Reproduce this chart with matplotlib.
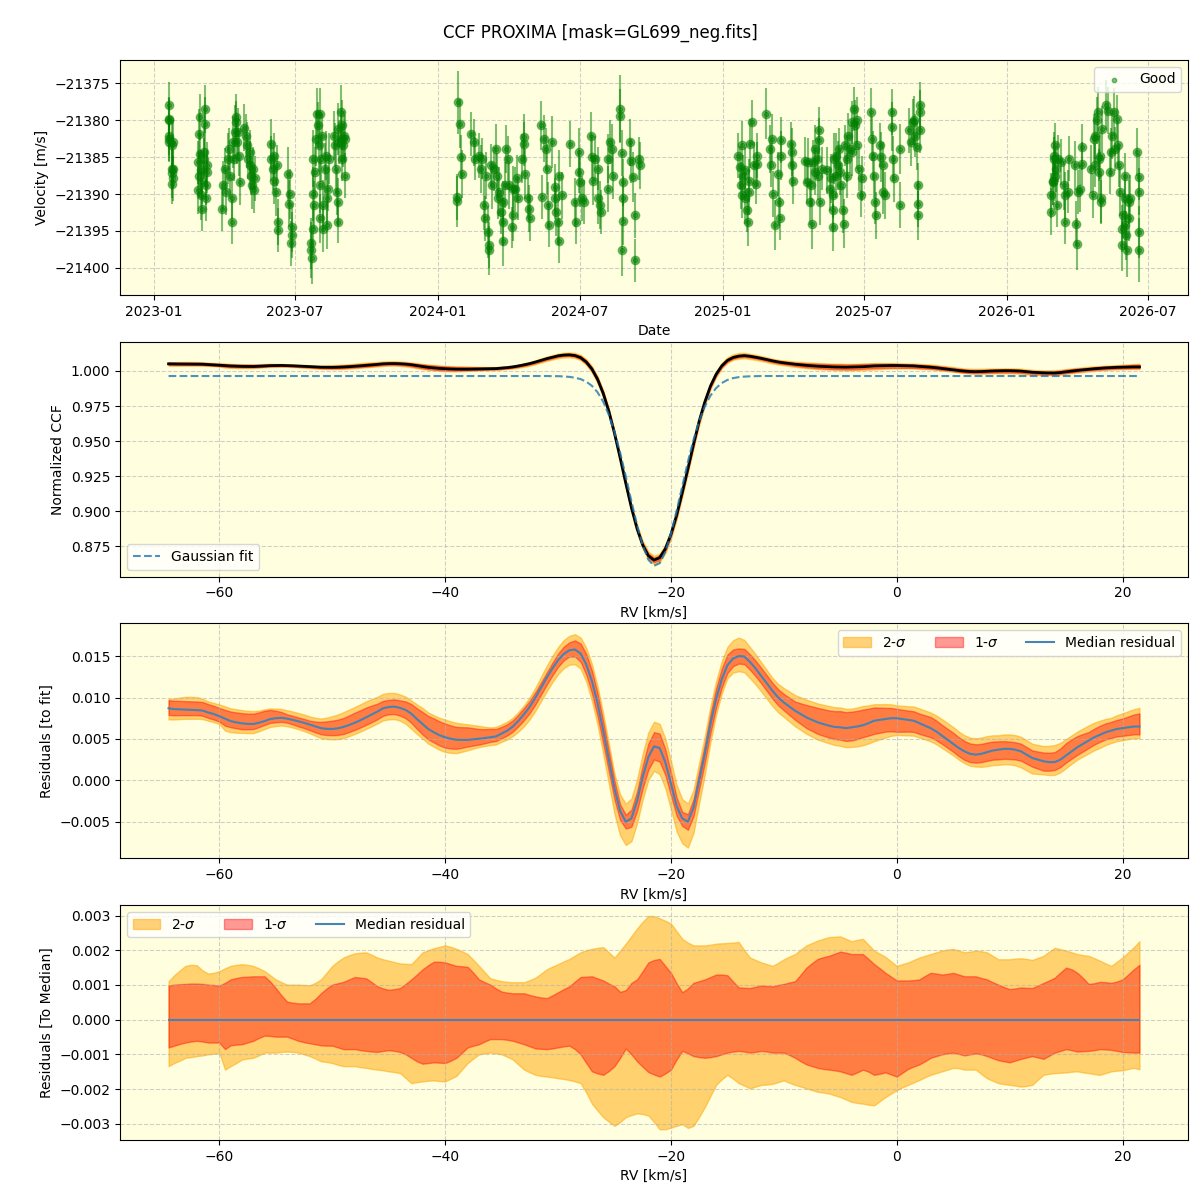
import numpy as np
import pandas as pd
import matplotlib
matplotlib.use("Agg")
import matplotlib.pyplot as plt

# ---------------- RV time series (days since 2023-01-01, m/s) ----------------
days_2023 = [
    19, 19, 19, 20, 20, 20, 23, 23, 23, 23, 25, 25, 25,
    57, 57, 58, 58, 60, 60, 61, 61, 62, 62, 64, 64, 66, 66, 67, 67, 69, 69,
    88, 89, 91, 93, 95, 97, 98, 100, 100, 102, 103, 104, 105, 106, 107, 108, 109, 111,
    116, 118, 120, 121, 123, 124, 125, 126, 127, 129, 130,
    150, 151, 153, 154, 155, 157, 158, 159, 160,
    173, 174, 175, 176, 177, 178,
    202, 202, 203, 204, 204, 205, 206, 207, 209, 210, 211, 212, 213, 213, 214, 215,
    216, 217, 218, 220, 221, 222, 222, 224, 225,
    232, 233, 234, 235, 236, 236, 237, 238, 240, 241, 242, 242, 243, 244, 245, 246,
]
rv_2023 = [
    -21377.9, -21379.8, -21380.0, -21382.1, -21382.5, -21383.0, -21383.4, -21386.6, -21387.2, -21388.6,
    -21383.0, -21386.6, -21387.9,
    -21389.5, -21385.7, -21387.5, -21381.9, -21384.6, -21379.6, -21386.8, -21390.2, -21392.0, -21388.4,
    -21384.3, -21385.2, -21378.5, -21380.5, -21390.6, -21388.8, -21386.1, -21387.0,
    -21392.0, -21388.8, -21386.6, -21389.7, -21385.2, -21383.9, -21387.5, -21393.8, -21390.6, -21383.0,
    -21385.2, -21381.6, -21379.6, -21380.3, -21383.0, -21381.6, -21384.8, -21388.4,
    -21381.0, -21382.1, -21383.4, -21385.2, -21386.1, -21384.3, -21387.5, -21388.8, -21386.6, -21389.5,
    -21387.9,
    -21383.2, -21385.2, -21386.6, -21388.2, -21384.8, -21389.7, -21386.1, -21393.8, -21394.9,
    -21387.3, -21391.3, -21390.0, -21396.7, -21394.5, -21395.6,
    -21396.7, -21397.6, -21398.7, -21394.7, -21390.0, -21385.2, -21391.5, -21387.0, -21382.5, -21379.1,
    -21380.7, -21383.4, -21379.1, -21393.3, -21388.8, -21385.2, -21382.1, -21391.5, -21394.7, -21386.6,
    -21384.8, -21390.6, -21394.2, -21389.3, -21385.2,
    -21382.1, -21383.4, -21386.6, -21389.7, -21391.1, -21393.8, -21381.2, -21383.0, -21378.9, -21382.5,
    -21380.7, -21385.2, -21383.4, -21382.1, -21387.5, -21382.5,
]
err_2023 = [
    3.0, 2.8, 3.2, 2.6, 3.0, 2.7, 3.1, 2.9, 3.3, 2.8, 3.0, 2.6, 3.1,
    3.2, 2.9, 3.0, 3.4, 2.7, 3.1, 2.8, 3.3, 3.0, 2.9, 3.5, 2.8, 3.2, 3.6, 3.0, 2.7, 3.1, 2.9,
    3.0, 3.3, 2.8, 3.1, 3.4, 2.9, 3.2, 3.0, 2.8, 3.5, 3.1, 3.6, 3.2, 2.9, 3.0, 3.3, 2.8, 3.1,
    3.2, 2.9, 3.1, 2.8, 3.3, 3.0, 2.7, 3.2, 2.9, 3.1, 3.0,
    3.4, 3.1, 2.9, 3.2, 3.0, 3.3, 2.8, 3.1, 3.0,
    3.6, 3.2, 3.4, 3.0, 3.3, 3.1,
    3.5, 3.8, 3.5, 3.3, 3.6, 3.9, 3.2, 3.4, 3.7, 3.4, 3.1, 3.6, 3.5, 3.3, 3.8, 3.2,
    3.0, 3.4, 3.1, 3.5, 3.3, 3.6, 3.2, 3.0, 3.4,
    3.3, 3.0, 3.4, 3.1, 3.2, 2.9, 3.5, 3.0, 3.6, 3.2, 3.4, 3.1, 2.9, 3.3, 3.0, 3.2,
]

days_2024 = [
    389, 390, 391, 393, 395, 396,
    407, 411, 413, 418, 420, 422, 424, 426, 427, 429, 430, 430, 433, 435, 437, 439, 441, 442,
    443, 446, 448, 448, 449, 451, 453, 455, 456, 460, 462, 462, 464, 466, 468, 473, 475, 476,
    477, 481, 482, 483,
    497, 499, 501, 504, 505, 506, 507, 512, 515, 515, 517, 519, 520, 521, 524,
    534, 541, 542, 546, 546, 548, 550, 552,
    562, 563, 564, 567, 570, 571, 573, 574,
    583, 584, 586, 588, 590, 599, 599, 601, 602, 603, 603, 603,
    612, 613, 615, 618, 618, 623, 625,
]
rv_2024 = [
    -21391.0, -21390.4, -21377.6, -21380.5, -21385.0, -21387.3,
    -21381.9, -21383.0, -21385.2, -21384.8, -21386.6, -21385.2, -21391.5, -21393.3, -21387.5, -21395.1,
    -21396.9, -21397.6, -21386.1, -21388.8, -21386.6, -21383.9, -21387.5, -21390.6, -21389.7, -21392.4,
    -21393.8, -21396.3, -21391.1, -21388.8, -21383.9, -21385.2, -21388.8, -21394.5, -21392.9, -21389.3,
    -21389.3, -21387.9, -21390.6, -21385.2, -21382.3, -21383.2, -21387.3, -21390.6, -21392.0, -21393.3,
    -21380.7, -21390.4, -21382.5, -21383.9, -21386.6, -21391.5, -21394.2, -21383.0, -21389.1, -21390.6,
    -21392.4, -21393.8, -21396.3, -21387.5, -21390.2,
    -21383.2, -21391.1, -21393.8, -21384.3, -21387.0, -21388.4, -21390.6, -21391.1,
    -21382.1, -21385.0, -21388.2, -21385.2, -21386.6, -21390.6, -21391.5, -21392.4,
    -21385.2, -21389.3, -21383.0, -21383.9, -21387.5, -21378.5, -21379.4, -21384.5, -21397.6, -21388.4,
    -21390.6, -21393.6,
    -21383.0, -21385.5, -21387.7, -21392.9, -21399.0, -21385.2, -21386.1,
]
err_2024 = [
    3.4, 3.1, 4.3, 3.3, 3.0, 3.2,
    3.0, 3.2, 2.9, 3.1, 3.3, 2.8, 3.4, 3.0, 3.2, 3.5, 3.1, 3.3, 2.9, 3.2, 3.0, 3.4, 3.1, 2.8,
    3.3, 3.0, 3.2, 3.5, 2.9, 3.1, 3.3, 3.0, 3.2, 2.8, 3.4, 3.1, 3.0, 3.2, 2.9, 3.3, 3.1, 3.0,
    3.4, 2.8, 3.2, 3.1,
    3.3, 3.0, 3.2, 2.9, 3.4, 3.1, 3.0, 3.5, 3.2, 2.8, 3.3, 3.1, 3.0, 3.4, 3.2,
    3.1, 3.3, 3.0, 3.2, 2.9, 3.4, 3.1, 3.0,
    3.2, 3.0, 3.3, 3.1, 2.9, 3.4, 3.2, 3.0,
    3.3, 3.1, 3.0, 3.4, 3.2, 4.6, 3.6, 3.1, 3.5, 3.2, 3.0, 3.3,
    3.2, 3.0, 3.4, 3.1, 2.9, 2.9, 3.2,
]

days_2025 = [
    751, 753, 754, 755, 756, 757, 759, 759, 762, 763, 764, 764, 766, 769, 771, 773, 775, 775,
    786,
    792, 793, 794, 795, 798, 802, 803, 804, 806, 806,
    819, 820, 820, 821,
    837, 839, 840, 843, 844, 845, 847, 849, 849, 852, 853, 854, 855, 856, 858,
    865, 868, 870, 872, 872, 872, 874, 876, 876, 879, 880, 881, 883, 885, 886, 888, 890, 890,
    892, 894, 897, 897, 900, 901, 903, 903, 906, 908, 910,
    921, 922, 924, 925, 926, 928, 933, 934, 936, 937, 939,
    948, 948, 949, 951, 958, 958,
    970, 972, 975, 976, 978, 980, 982, 982, 982, 984, 984, 984,
]
rv_2025 = [
    -21384.8, -21386.4, -21388.8, -21390.2, -21383.4, -21387.5, -21386.8, -21390.6, -21392.2, -21393.8,
    -21388.2, -21389.7, -21383.2, -21380.3, -21386.1, -21388.6, -21384.8, -21385.9,
    -21379.1,
    -21383.9, -21386.1, -21382.5, -21390.0, -21394.2, -21387.3, -21391.1, -21393.3, -21382.7, -21384.8,
    -21383.2, -21384.3, -21386.1, -21388.2,
    -21385.5, -21388.4, -21385.7, -21391.1, -21388.8, -21394.0, -21385.7, -21383.9, -21387.0, -21385.2,
    -21387.5, -21382.7, -21381.4, -21391.1, -21386.6,
    -21386.8, -21389.3, -21387.9, -21390.2, -21392.2, -21394.5, -21385.2, -21384.8, -21387.5, -21386.1,
    -21383.9, -21387.0, -21388.8, -21392.2, -21394.0, -21383.4, -21385.2, -21387.5, -21382.1, -21383.9,
    -21380.3, -21384.3, -21378.5, -21380.7, -21380.0, -21383.4, -21386.6, -21390.2, -21387.9,
    -21378.9, -21382.5, -21384.8, -21387.5, -21391.1, -21392.9, -21383.4, -21385.0, -21386.1, -21389.7,
    -21390.2,
    -21378.9, -21380.9, -21385.2, -21387.9, -21383.9, -21391.5,
    -21381.4, -21383.0, -21380.3, -21380.0, -21382.1, -21383.6, -21388.8, -21391.3, -21392.9, -21378.0,
    -21378.9, -21381.4,
]
err_2025 = [
    3.1, 2.9, 3.2, 3.0, 3.3, 2.8, 3.1, 3.4, 3.0, 3.2, 2.9, 3.1, 3.3, 3.0, 3.2, 2.8, 3.1, 3.0,
    3.4,
    3.2, 3.0, 3.3, 3.1, 3.4, 3.0, 3.2, 2.9, 3.1, 3.3,
    3.0, 3.2, 2.9, 3.1,
    3.2, 3.0, 3.3, 3.1, 2.9, 3.4, 3.0, 3.2, 3.1, 2.8, 3.3, 3.0, 3.2, 3.1, 2.9,
    3.2, 3.0, 3.3, 3.1, 2.9, 3.2, 3.4, 3.0, 3.1, 3.3, 2.9, 3.2, 3.0, 3.1, 3.3, 2.8, 3.2, 3.0,
    3.1, 3.3, 2.9, 3.2, 3.0, 3.4, 3.1, 3.2, 3.0, 2.9, 3.1,
    3.2, 3.0, 3.3, 3.1, 2.9, 3.2, 3.0, 3.4, 3.1, 3.0, 3.2,
    3.1, 3.3, 3.0, 3.2, 3.4, 3.1,
    3.0, 3.2, 3.1, 3.3, 2.9, 3.2, 3.0, 3.1, 3.3, 3.2, 3.0, 3.1,
]

days_2026 = [
    1152, 1153, 1155, 1155, 1156, 1156, 1158, 1158, 1159, 1160, 1162, 1165, 1169, 1170, 1171, 1174, 1176,
    1183, 1185, 1186, 1187, 1189, 1192, 1192,
    1204, 1206, 1207, 1209, 1209, 1211, 1213, 1214, 1214, 1215, 1216, 1217, 1218, 1223, 1225,
    1228, 1229, 1231, 1233, 1235, 1237, 1239, 1240, 1241, 1243, 1244, 1245, 1247, 1247, 1248, 1249,
    1250, 1252, 1252, 1254,
    1263, 1266, 1266, 1266, 1266,
]
rv_2026 = [
    -21392.4, -21390.2, -21388.2, -21388.4, -21385.2, -21384.8, -21383.4, -21387.5, -21386.6, -21391.5,
    -21385.2, -21385.7, -21388.8, -21393.8, -21390.2, -21389.7, -21385.2,
    -21386.1, -21394.0, -21396.8, -21389.7, -21389.3, -21383.6, -21385.9,
    -21386.6, -21390.2, -21382.5, -21382.1, -21386.1, -21380.0, -21378.9, -21385.2, -21387.0, -21384.8,
    -21391.1, -21390.6, -21381.2, -21378.0, -21378.7,
    -21387.0, -21384.3, -21382.1, -21378.9, -21383.9, -21379.8, -21383.4, -21386.1, -21389.7, -21394.7,
    -21396.9, -21392.9, -21387.5, -21390.6, -21394.2, -21395.6, -21397.6, -21393.3, -21391.1, -21390.6,
    -21384.3, -21387.7, -21389.7, -21395.1, -21397.6,
]
err_2026 = [
    3.2, 3.0, 3.3, 3.1, 2.9, 3.2, 3.0, 3.4, 3.1, 3.0, 3.2, 3.1, 3.3, 3.0, 3.2, 2.9, 3.1,
    3.3, 3.1, 3.5, 3.0, 3.2, 3.1, 2.9,
    3.2, 3.0, 3.3, 3.1, 2.9, 3.2, 3.4, 3.0, 3.1, 3.2, 3.0, 3.3, 3.1, 3.4, 3.2,
    3.0, 3.2, 3.1, 3.3, 3.0, 3.2, 3.1, 2.9, 3.3, 3.2, 3.5, 3.1, 3.0, 3.2, 3.4, 3.3,
    3.6, 3.1, 3.0, 3.2,
    3.3, 3.1, 3.2, 3.5, 4.3,
]

# ---------------- CCF profiles (RV grid -64.5 .. 21.5 km/s, step 0.5) ----------------
rv_grid = np.arange(-64.5, 21.51, 0.5)

gauss_fit = [
    0.9964, 0.9964, 0.9964, 0.9964, 0.9964, 0.9964, 0.9964, 0.9964, 0.9964, 0.9964,
    0.9964, 0.9964, 0.9964, 0.9964, 0.9964, 0.9964, 0.9964, 0.9964, 0.9964, 0.9964,
    0.9964, 0.9964, 0.9964, 0.9964, 0.9964, 0.9964, 0.9964, 0.9964, 0.9964, 0.9964,
    0.9964, 0.9964, 0.9964, 0.9964, 0.9964, 0.9964, 0.9964, 0.9964, 0.9964, 0.9964,
    0.9964, 0.9964, 0.9964, 0.9964, 0.9964, 0.9964, 0.9964, 0.9964, 0.9964, 0.9964,
    0.9964, 0.9964, 0.9964, 0.9964, 0.9964, 0.9964, 0.9964, 0.9964, 0.9964, 0.9964,
    0.9964, 0.9964, 0.9964, 0.9964, 0.9964, 0.9964, 0.9964, 0.9964, 0.9963, 0.9963,
    0.9961, 0.9958, 0.9952, 0.9942, 0.9924, 0.9894, 0.9848, 0.9781, 0.9687, 0.9566,
    0.9418, 0.9249, 0.9071, 0.8900, 0.8755, 0.8654, 0.8610, 0.8629, 0.8709, 0.8838,
    0.9001, 0.9178, 0.9352, 0.9510, 0.9642, 0.9747, 0.9824, 0.9878, 0.9914, 0.9936,
    0.9949, 0.9956, 0.9960, 0.9962, 0.9963, 0.9964, 0.9964, 0.9964, 0.9964, 0.9964,
    0.9964, 0.9964, 0.9964, 0.9964, 0.9964, 0.9964, 0.9964, 0.9964, 0.9964, 0.9964,
    0.9964, 0.9964, 0.9964, 0.9964, 0.9964, 0.9964, 0.9964, 0.9964, 0.9964, 0.9964,
    0.9964, 0.9964, 0.9964, 0.9964, 0.9964, 0.9964, 0.9964, 0.9964, 0.9964, 0.9964,
    0.9964, 0.9964, 0.9964, 0.9964, 0.9964, 0.9964, 0.9964, 0.9964, 0.9964, 0.9964,
    0.9964, 0.9964, 0.9964, 0.9964, 0.9964, 0.9964, 0.9964, 0.9964, 0.9964, 0.9964,
    0.9964, 0.9964, 0.9964, 0.9964, 0.9964, 0.9964, 0.9964, 0.9964, 0.9964, 0.9964,
    0.9964, 0.9964, 0.9964,
]

median_residual = [
    0.0087, 0.0086, 0.00857, 0.00853, 0.0085, 0.00848, 0.00843, 0.0082, 0.0080, 0.00775,
    0.00745, 0.00715, 0.0070, 0.00688, 0.00682, 0.0068, 0.00695, 0.00715, 0.0074, 0.0075,
    0.00755, 0.00745, 0.0073, 0.00712, 0.00695, 0.00673, 0.0065, 0.0063, 0.00622, 0.0062,
    0.00628, 0.00645, 0.00668, 0.00695, 0.00726, 0.0076, 0.00795, 0.0083, 0.0087, 0.00885,
    0.0089, 0.00875, 0.0085, 0.00805, 0.0074, 0.0068, 0.0062, 0.0058, 0.00545, 0.0052,
    0.00502, 0.0049, 0.00488, 0.00488, 0.00495, 0.00503, 0.0051, 0.0052, 0.0053, 0.00565,
    0.0060, 0.0065, 0.0072, 0.0080, 0.0089, 0.0100, 0.0112, 0.0124, 0.0135, 0.0145,
    0.01525, 0.0157, 0.0158, 0.0153, 0.0140, 0.0120, 0.0093, 0.0060, 0.0025, -0.0010,
    -0.0037, -0.0050, -0.0046, -0.0025, 0.0004, 0.0028, 0.0041, 0.0039, 0.0022, -0.0004,
    -0.0031, -0.0046, -0.0050, -0.0033, 0.0000, 0.0032, 0.0068, 0.0098, 0.0122, 0.0139,
    0.0147, 0.0150, 0.01495, 0.0143, 0.0135, 0.0126, 0.0117, 0.0108, 0.0100, 0.0094,
    0.0089, 0.0084, 0.0080, 0.0076, 0.0073, 0.0070, 0.0068, 0.0066, 0.00645, 0.0064,
    0.0063, 0.0064, 0.0065, 0.00665, 0.0069, 0.0072, 0.0073, 0.0074, 0.0075, 0.0075,
    0.0074, 0.0073, 0.0072, 0.0069, 0.0066, 0.0063, 0.0059, 0.0054, 0.0049, 0.0044,
    0.0039, 0.0035, 0.0032, 0.0031, 0.0032, 0.0034, 0.0036, 0.0037, 0.0038, 0.0038,
    0.0037, 0.0035, 0.0031, 0.0027, 0.0025, 0.0023, 0.0022, 0.0022, 0.0025, 0.0030,
    0.0035, 0.0040, 0.0044, 0.0048, 0.0052, 0.0055, 0.0058, 0.0060, 0.0062, 0.0063,
    0.0064, 0.0065, 0.0065,
]

# percentile offsets around the median, read at half-integer RVs (-64.5 .. 21.5)
upper_2sig_half = [
    0.00111, 0.00142, 0.00158, 0.00142, 0.00135, 0.00148, 0.00158, 0.00158, 0.00148, 0.00128,
    0.00108, 0.00101, 0.00100, 0.00106, 0.00135, 0.00168, 0.00186, 0.00193, 0.00187, 0.00174,
    0.00166, 0.00161, 0.00177, 0.00200, 0.00210, 0.00210, 0.00197, 0.00172, 0.00137, 0.00115,
    0.00109, 0.00108, 0.00114, 0.00133, 0.00153, 0.00168, 0.00185, 0.00200, 0.00207, 0.00194,
    0.00199, 0.00241, 0.00282, 0.00298, 0.00285, 0.00255, 0.00222, 0.00214, 0.00216, 0.00220,
    0.00222, 0.00200, 0.00172, 0.00160, 0.00164, 0.00182, 0.00202, 0.00221, 0.00233, 0.00239,
    0.00233, 0.00230, 0.00216, 0.00190, 0.00168, 0.00160, 0.00172, 0.00184, 0.00194, 0.00202,
    0.00199, 0.00196, 0.00197, 0.00184, 0.00174, 0.00176, 0.00175, 0.00178, 0.00196, 0.00203,
    0.00194, 0.00186, 0.00177, 0.00162, 0.00167, 0.00194, 0.00226,
]
upper_1sig_half = [
    0.00098, 0.00102, 0.00104, 0.00103, 0.00100, 0.00106, 0.00120, 0.00124, 0.00125, 0.00110,
    0.00070, 0.00049, 0.00047, 0.00060, 0.00090, 0.00105, 0.00116, 0.00121, 0.00108, 0.00090,
    0.00088, 0.00103, 0.00130, 0.00157, 0.00167, 0.00160, 0.00154, 0.00135, 0.00108, 0.00090,
    0.00078, 0.00076, 0.00071, 0.00064, 0.00070, 0.00088, 0.00110, 0.00124, 0.00119, 0.00104,
    0.00080, 0.00106, 0.00140, 0.00172, 0.00155, 0.00105, 0.00090, 0.00111, 0.00123, 0.00130,
    0.00110, 0.00092, 0.00095, 0.00097, 0.00100, 0.00107, 0.00130, 0.00163, 0.00180, 0.00190,
    0.00193, 0.00189, 0.00175, 0.00148, 0.00124, 0.00113, 0.00114, 0.00126, 0.00133, 0.00132,
    0.00130, 0.00125, 0.00120, 0.00108, 0.00094, 0.00090, 0.00092, 0.00098, 0.00113, 0.00136,
    0.00145, 0.00120, 0.00105, 0.00108, 0.00110, 0.00130, 0.00158,
]
lower_1sig_half = [
    -0.00080, -0.00070, -0.00063, -0.00063, -0.00066, -0.00085, -0.00072, -0.00066, -0.00053, -0.00047,
    -0.00049, -0.00055, -0.00065, -0.00071, -0.00075, -0.00080, -0.00085, -0.00088, -0.00092, -0.00090,
    -0.00090, -0.00100, -0.00120, -0.00125, -0.00124, -0.00118, -0.00095, -0.00075, -0.00063, -0.00056,
    -0.00058, -0.00066, -0.00077, -0.00084, -0.00083, -0.00077, -0.00085, -0.00125, -0.00155, -0.00148,
    -0.00110, -0.00100, -0.00136, -0.00158, -0.00155, -0.00115, -0.00097, -0.00108, -0.00108, -0.00100,
    -0.00092, -0.00092, -0.00093, -0.00092, -0.00095, -0.00102, -0.00120, -0.00134, -0.00142, -0.00146,
    -0.00154, -0.00152, -0.00150, -0.00156, -0.00158, -0.00153, -0.00135, -0.00120, -0.00105, -0.00097,
    -0.00099, -0.00100, -0.00100, -0.00111, -0.00120, -0.00118, -0.00109, -0.00109, -0.00104, -0.00090,
    -0.00088, -0.00091, -0.00088, -0.00086, -0.00090, -0.00094, -0.00095,
]
lower_2sig_half = [
    -0.00134, -0.00118, -0.00108, -0.00103, -0.00098, -0.00144, -0.00125, -0.00112, -0.00103, -0.00095,
    -0.00093, -0.00093, -0.00100, -0.00112, -0.00122, -0.00130, -0.00134, -0.00137, -0.00142, -0.00146,
    -0.00151, -0.00168, -0.00180, -0.00176, -0.00177, -0.00170, -0.00143, -0.00112, -0.00097, -0.00097,
    -0.00107, -0.00130, -0.00152, -0.00162, -0.00166, -0.00171, -0.00178, -0.00210, -0.00262, -0.00294,
    -0.00295, -0.00275, -0.00272, -0.00295, -0.00316, -0.00306, -0.00312, -0.00280, -0.00220, -0.00172,
    -0.00170, -0.00190, -0.00193, -0.00187, -0.00180, -0.00182, -0.00193, -0.00203, -0.00210, -0.00218,
    -0.00230, -0.00240, -0.00245, -0.00235, -0.00213, -0.00195, -0.00181, -0.00166, -0.00154, -0.00144,
    -0.00140, -0.00144, -0.00157, -0.00176, -0.00186, -0.00190, -0.00191, -0.00173, -0.00156, -0.00153,
    -0.00150, -0.00152, -0.00157, -0.00154, -0.00147, -0.00142, -0.00143,
]

# same offsets read at integer RVs (-64 .. 21)
upper_2sig_int = [
    0.00128, 0.00155, 0.00157, 0.00133, 0.00140, 0.00155, 0.00160, 0.00155, 0.00140, 0.00116,
    0.00101, 0.00101, 0.00099, 0.00116, 0.00155, 0.00179, 0.00191, 0.00194, 0.00179, 0.00170,
    0.00162, 0.00160, 0.00194, 0.00206, 0.00214, 0.00204, 0.00189, 0.00155, 0.00119, 0.00111,
    0.00108, 0.00108, 0.00121, 0.00145, 0.00160, 0.00175, 0.00194, 0.00204, 0.00209, 0.00179,
    0.00219, 0.00263, 0.00299, 0.00292, 0.00277, 0.00233, 0.00214, 0.00214, 0.00219, 0.00221,
    0.00224, 0.00179, 0.00165, 0.00155, 0.00174, 0.00189, 0.00214, 0.00228, 0.00238, 0.00240,
    0.00226, 0.00233, 0.00199, 0.00181, 0.00155, 0.00165, 0.00179, 0.00189, 0.00199, 0.00204,
    0.00194, 0.00199, 0.00194, 0.00174, 0.00174, 0.00177, 0.00172, 0.00184, 0.00207, 0.00199,
    0.00189, 0.00184, 0.00170, 0.00155, 0.00179, 0.00209,
]
upper_1sig_int = [
    0.00101, 0.00103, 0.00104, 0.00101, 0.00098, 0.00116, 0.00123, 0.00125, 0.00125, 0.00091,
    0.00052, 0.00047, 0.00047, 0.00076, 0.00101, 0.00109, 0.00123, 0.00119, 0.00096, 0.00086,
    0.00091, 0.00116, 0.00145, 0.00167, 0.00165, 0.00155, 0.00152, 0.00116, 0.00101, 0.00081,
    0.00076, 0.00076, 0.00067, 0.00062, 0.00079, 0.00096, 0.00123, 0.00125, 0.00113, 0.00096,
    0.00085, 0.00116, 0.00165, 0.00175, 0.00135, 0.00079, 0.00106, 0.00116, 0.00130, 0.00128,
    0.00093, 0.00091, 0.00098, 0.00096, 0.00103, 0.00111, 0.00150, 0.00175, 0.00184, 0.00196,
    0.00189, 0.00189, 0.00160, 0.00135, 0.00113, 0.00113, 0.00116, 0.00135, 0.00130, 0.00135,
    0.00125, 0.00125, 0.00116, 0.00101, 0.00088, 0.00093, 0.00091, 0.00106, 0.00121, 0.00150,
    0.00135, 0.00103, 0.00109, 0.00106, 0.00116, 0.00145,
]
lower_1sig_int = [
    -0.00075, -0.00066, -0.00061, -0.00066, -0.00066, -0.00074, -0.00071, -0.00061, -0.00046, -0.00049,
    -0.00049, -0.00061, -0.00068, -0.00074, -0.00075, -0.00085, -0.00085, -0.00090, -0.00093, -0.00088,
    -0.00093, -0.00110, -0.00127, -0.00123, -0.00125, -0.00110, -0.00080, -0.00071, -0.00056, -0.00056,
    -0.00061, -0.00071, -0.00083, -0.00085, -0.00080, -0.00075, -0.00100, -0.00149, -0.00159, -0.00134,
    -0.00083, -0.00120, -0.00151, -0.00164, -0.00144, -0.00090, -0.00105, -0.00110, -0.00105, -0.00095,
    -0.00090, -0.00095, -0.00090, -0.00095, -0.00095, -0.00110, -0.00129, -0.00139, -0.00144, -0.00149,
    -0.00159, -0.00144, -0.00159, -0.00152, -0.00164, -0.00142, -0.00129, -0.00110, -0.00100, -0.00095,
    -0.00103, -0.00097, -0.00105, -0.00117, -0.00123, -0.00113, -0.00105, -0.00113, -0.00095, -0.00085,
    -0.00092, -0.00090, -0.00085, -0.00087, -0.00093, -0.00095,
]
lower_2sig_int = [
    -0.00125, -0.00110, -0.00105, -0.00100, -0.00095, -0.00134, -0.00115, -0.00110, -0.00095, -0.00095,
    -0.00092, -0.00095, -0.00105, -0.00120, -0.00125, -0.00134, -0.00134, -0.00139, -0.00144, -0.00149,
    -0.00154, -0.00183, -0.00178, -0.00175, -0.00178, -0.00162, -0.00125, -0.00100, -0.00095, -0.00100,
    -0.00115, -0.00144, -0.00159, -0.00164, -0.00169, -0.00174, -0.00183, -0.00242, -0.00281, -0.00306,
    -0.00281, -0.00270, -0.00276, -0.00316, -0.00311, -0.00301, -0.00306, -0.00252, -0.00188, -0.00159,
    -0.00183, -0.00198, -0.00188, -0.00185, -0.00175, -0.00188, -0.00198, -0.00208, -0.00213, -0.00223,
    -0.00237, -0.00242, -0.00247, -0.00223, -0.00203, -0.00188, -0.00174, -0.00159, -0.00149, -0.00139,
    -0.00144, -0.00144, -0.00169, -0.00183, -0.00188, -0.00193, -0.00188, -0.00159, -0.00154, -0.00152,
    -0.00149, -0.00154, -0.00159, -0.00149, -0.00146, -0.00139,
]

# ---------------- derived arrays ----------------
days = np.array(days_2023 + days_2024 + days_2025 + days_2026, dtype=float)
rv_obs = np.array(rv_2023 + rv_2024 + rv_2025 + rv_2026)
rv_err = np.array(err_2023 + err_2024 + err_2025 + err_2026)
dates = pd.Timestamp("2023-01-01") + pd.to_timedelta(days, unit="D")

gauss = np.array(gauss_fit)
resid = np.array(median_residual)
ccf = gauss + resid


def merge(half, whole):
    out = np.empty(len(half) + len(whole))
    out[::2] = half
    out[1::2] = whole
    return out


u2 = merge(upper_2sig_half, upper_2sig_int)
u1 = merge(upper_1sig_half, upper_1sig_int)
l1 = merge(lower_1sig_half, lower_1sig_int)
l2 = merge(lower_2sig_half, lower_2sig_int)

bg = "lightyellow"
c2 = dict(color="orange", alpha=0.5)
c1 = dict(color="red", alpha=0.4)

fig, axes = plt.subplots(4, 1, figsize=(12, 12), dpi=100)
fig.suptitle("CCF PROXIMA [mask=GL699_neg.fits]", fontsize=12)

# panel 1: velocities
ax = axes[0]
ax.set_facecolor(bg)
ax.errorbar(dates, rv_obs, yerr=rv_err, fmt="o", color="green", alpha=0.5)
ax.scatter(dates, rv_obs, s=10, color="green", alpha=0.5, label="Good", zorder=3)
ax.set_xlabel("Date")
ax.set_ylabel("Velocity [m/s]")
ax.grid(True, linestyle="--", alpha=0.6)
ax.legend(loc="upper right")

# panel 2: CCF and gaussian fit
ax = axes[1]
ax.set_facecolor(bg)
ax.fill_between(rv_grid, ccf + l2, ccf + u2, **c2)
ax.fill_between(rv_grid, ccf + l1, ccf + u1, **c1)
ax.plot(rv_grid, ccf, color="black", lw=2)
ax.plot(rv_grid, gauss, "--", color="tab:blue", alpha=0.8, lw=1.5, label="Gaussian fit")
ax.set_xlabel("RV [km/s]")
ax.set_ylabel("Normalized CCF")
ax.grid(True, linestyle="--", alpha=0.6)
ax.legend(loc="lower left")

# panel 3: residuals to fit
ax = axes[2]
ax.set_facecolor(bg)
ax.fill_between(rv_grid, resid + l2, resid + u2, label="2-$\\sigma$", **c2)
ax.fill_between(rv_grid, resid + l1, resid + u1, label="1-$\\sigma$", **c1)
ax.plot(rv_grid, resid, color="steelblue", lw=1.5, label="Median residual")
ax.set_xlabel("RV [km/s]")
ax.set_ylabel("Residuals [to fit]")
ax.grid(True, linestyle="--", alpha=0.6)
ax.legend(loc="upper right", ncol=3)

# panel 4: residuals to median
ax = axes[3]
ax.set_facecolor(bg)
ax.fill_between(rv_grid, l2, u2, label="2-$\\sigma$", **c2)
ax.fill_between(rv_grid, l1, u1, label="1-$\\sigma$", **c1)
ax.plot(rv_grid, resid - resid, color="steelblue", lw=1.5, label="Median residual")
ax.set_xlabel("RV [km/s]")
ax.set_ylabel("Residuals [To Median]")
ax.grid(True, linestyle="--", alpha=0.6)
ax.legend(loc="upper left", ncol=3)

fig.subplots_adjust(left=0.10, right=0.99, top=0.95, bottom=0.05, hspace=0.2)
plt.savefig("out.png")
